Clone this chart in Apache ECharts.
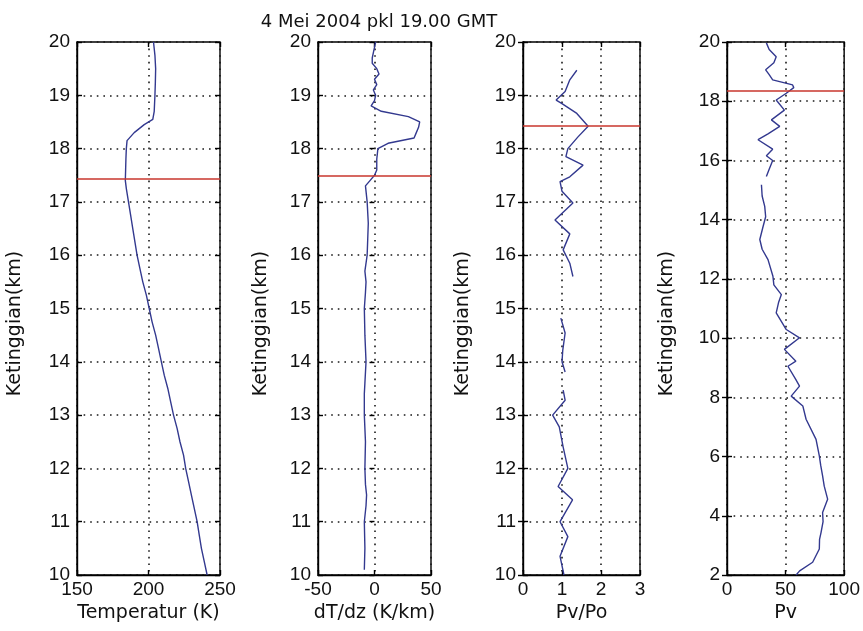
<!DOCTYPE html>
<html><head><meta charset="utf-8">
<script src="https://cdn.jsdelivr.net/npm/echarts@6/dist/echarts.min.js"></script>
<style>html,body{margin:0;padding:0;background:#fff}#c{width:863px;height:631px}</style>
</head><body><div id="c"></div>
<script>
// ---- Data ----
const titleText = "4 Mei 2004 pkl 19.00 GMT";
const yName = "Ketinggian(km)";
const xNames = ["Temperatur (K)", "dT/dz (K/km)", "Pv/Po", "Pv"];

// Panel 1: temperature profile
const tempH = [10.0,10.25,10.5,10.75,11.0,11.25,11.5,11.75,12.0,12.25,12.5,12.75,13.0,13.25,13.5,13.75,14.0,14.25,14.5,14.75,15.0,15.25,15.5,15.75,16.0,16.25,16.5,16.75,17.0,17.25,17.4,17.6,17.8,18.0,18.15,18.3,18.45,18.55,18.7,19.0,19.25,19.5,19.75,20.0];
const tempV = [241,239,237,235.5,234,232,230,228,226,224.5,222,220,217.5,215.5,213.5,211,209,207,205,202.5,200.5,198.5,196,194,192,190.5,189,187.5,186,184.5,183.8,184,184.2,184.5,185,190,197,203,204,204.5,204.8,205,204.5,203.5];

// Panel 2: lapse rate dT/dz
const lapseH = [10.1,10.5,11.0,11.3,11.5,11.7,12.0,12.5,13.0,13.4,13.6,14.0,14.5,15.0,15.3,15.5,15.7,16.0,16.3,16.6,17.0,17.3,17.4,17.5,17.6,17.8,18.0,18.1,18.2,18.3,18.4,18.5,18.6,18.7,18.8,18.9,19.0,19.1,19.2,19.3,19.4,19.5,19.6,19.7,19.8,19.9,20.0];
const lapseV = [-9,-8.5,-9,-7.5,-7,-8,-8.5,-8,-9,-9,-8.5,-7.5,-8.5,-9,-8,-7.5,-8.5,-6.5,-6,-5.5,-6.5,-8,-4,0,2,2,3,12,35,37,39,40,30,6,-3,0,1,-1,2,0,4,2,-2,-2,-1,0,1];

// Panel 3: Pv/Po (null = gap)
const ratioH = [10.0,10.35,10.72,11.0,11.41,11.66,12.0,12.4,12.78,13.0,13.28,13.47,null,13.81,14.0,14.22,14.54,14.82,null,15.6,15.85,16.1,16.4,16.66,16.98,17.2,17.38,17.47,17.69,17.85,18.0,18.22,18.42,18.66,18.85,18.91,19.07,19.29,19.47];
const ratioV = [1.05,0.95,1.15,0.95,1.27,0.9,1.15,1.03,0.93,0.76,1.08,1.03,null,1.08,1.0,1.02,1.08,0.97,null,1.28,1.2,1.03,1.2,0.82,1.28,1.0,0.95,1.2,1.54,1.1,1.15,1.41,1.67,1.38,0.99,0.85,1.08,1.2,1.38];

// Panel 4: Pv (null = gap)
const pvH = [2.0,2.14,2.43,2.88,3.2,3.44,3.8,4.11,4.56,5.0,5.35,5.7,6.02,6.58,7.26,7.71,8.04,8.38,8.6,9.05,9.22,9.62,10.01,10.29,10.85,11.2,11.47,11.8,12.09,12.65,13.0,13.33,13.77,14.1,14.45,14.8,15.18,null,15.46,15.7,16.0,16.16,16.38,16.7,16.9,17.15,17.37,17.7,18.04,18.27,18.46,18.55,18.72,18.9,19.06,19.3,19.5,19.75,19.97];
const pvV = [59,62,73.1,78.8,79,80.3,82,81.6,85.9,83,81.6,80,78.8,76,67.5,64.7,54.8,61.9,58.8,52,58.8,49,61.9,50.6,42,44,46.4,40,39.2,35,30,28,30.8,33,32.2,30,29.4,null,33.6,36,39,33.6,39,26.5,35,45,37.9,49,42,50.6,57,56,39,36,33,40,42,36,33.6];

// Tropopause heights (red lines)
const tropo = [17.43, 17.5, 18.42, 18.35];

// Axis ranges
const xRanges = [[150,250,50],[-50,50,50],[0,3,1],[0,100,50]];
const yRanges = [[10,20,1],[10,20,1],[10,20,1],[2,20,2]];

// ---- Layout ----
const panels = [
  {left:77, width:143, nameGap:52},
  {left:318, width:113, nameGap:47},
  {left:523, width:117, nameGap:50},
  {left:727, width:118, nameGap:50}
];
const TOP = 42, BOTTOM = 631-575;
const FONT = "Liberation Sans, Arial, sans-serif";
const NFONT = "DejaVu Sans, sans-serif";
const lineColor = "#33398f";
const redColor = "#c8362c";

const grids = [], xAxes = [], yAxes = [], series = [];
const hs = [tempH, lapseH, ratioH, pvH];
const vs = [tempV, lapseV, ratioV, pvV];

panels.forEach((p, i) => {
  grids.push({left:p.left, width:p.width, top:TOP, bottom:BOTTOM, show:true, borderColor:"#000", borderWidth:1.4, backgroundColor:"#fff"});
  const dotted = {show:true, lineStyle:{color:"#1a1a1a", width:1.6, type:[1.6,5]}};
  xAxes.push({
    type:"value", gridIndex:i, min:xRanges[i][0], max:xRanges[i][1], interval:xRanges[i][2],
    name:xNames[i], nameLocation:"middle", nameGap:26,
    nameTextStyle:{fontFamily:NFONT, fontSize:19, color:"#111"},
    axisLine:{show:true, onZero:false, lineStyle:{color:"#000", width:1.4}},
    axisTick:{show:true, inside:true, length:5, lineStyle:{color:"#000", width:1.4}},
    axisLabel:{fontFamily:FONT, fontSize:19, color:"#111", margin:5},
    splitLine:dotted
  });
  xAxes.push({
    type:"value", gridIndex:i, position:"top", min:xRanges[i][0], max:xRanges[i][1], interval:xRanges[i][2],
    axisLine:{show:false}, axisLabel:{show:false}, splitLine:{show:false},
    axisTick:{show:true, inside:true, length:5, lineStyle:{color:"#000", width:1.4}}
  });
  yAxes.push({
    type:"value", gridIndex:i, min:yRanges[i][0], max:yRanges[i][1], interval:yRanges[i][2],
    name:yName, nameLocation:"middle", nameGap:p.nameGap, nameRotate:90,
    nameTextStyle:{fontFamily:NFONT, fontSize:19, color:"#111", padding:[0,30,0,0]},
    axisLine:{show:true, onZero:false, lineStyle:{color:"#000", width:1.4}},
    axisTick:{show:true, inside:true, length:5, lineStyle:{color:"#000", width:1.4}},
    axisLabel:{fontFamily:FONT, fontSize:19, color:"#111", margin:7},
    splitLine:dotted
  });
  yAxes.push({
    type:"value", gridIndex:i, position:"right", min:yRanges[i][0], max:yRanges[i][1], interval:yRanges[i][2],
    axisLine:{show:false}, axisLabel:{show:false}, splitLine:{show:false},
    axisTick:{show:true, inside:true, length:5, lineStyle:{color:"#000", width:1.4}}
  });
  const data = hs[i].map((h, k) => (h === null ? [null, null] : [vs[i][k], h]));
  series.push({
    type:"line", xAxisIndex:2*i, yAxisIndex:2*i, data:data, showSymbol:false, connectNulls:false,
    lineStyle:{color:lineColor, width:1.4}, itemStyle:{color:lineColor}, animation:false, z:3,
    markLine:{silent:true, symbol:"none", label:{show:false}, animation:false,
      lineStyle:{color:redColor, width:1.6, type:"solid"},
      data:[{yAxis:tropo[i]}]}
  });
});

const chart = echarts.init(document.getElementById("c"), null, {renderer:"canvas"});
chart.setOption({
  animation:false,
  backgroundColor:"#fff",
  title:{text:titleText, left:374, top:8, textAlign:"center",
    textStyle:{fontFamily:NFONT, fontSize:18, fontWeight:"normal", color:"#111"}},
  grid:grids, xAxis:xAxes, yAxis:yAxes, series:series
});
</script></body></html>
